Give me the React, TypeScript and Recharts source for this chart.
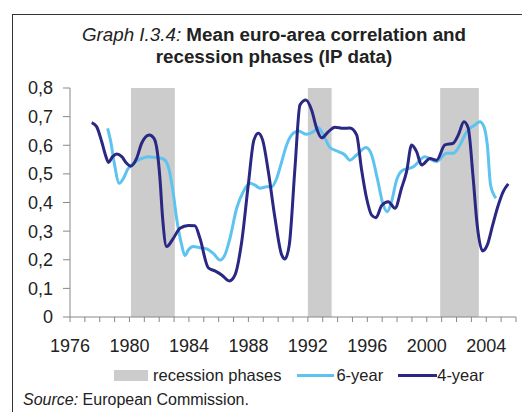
import { LineChart, Line, XAxis, YAxis, ReferenceArea } from 'recharts';

// 4-year rolling correlation (dark line)
const years4 = [
  1977.46, 1977.79, 1978.13, 1978.42, 1978.58, 1978.87, 1979.14, 1979.48, 1979.81, 1980.08,
  1980.48, 1980.82, 1981.34, 1981.65, 1981.87, 1982.05, 1982.23, 1982.5, 1982.95, 1983.4,
  1983.96, 1984.4, 1984.74, 1985.3, 1985.75, 1986.2, 1986.72, 1987.1, 1987.55, 1987.99,
  1988.37, 1988.67, 1988.96, 1989.34, 1989.79, 1990.24, 1990.46, 1990.75, 1991.13, 1991.47,
  1991.87, 1992.25, 1992.59, 1992.93, 1993.37, 1993.82, 1994.38, 1994.83, 1995.28, 1995.6,
  1995.95, 1996.29, 1996.58, 1996.96, 1997.41, 1997.86, 1998.3, 1998.64, 1998.98, 1999.31,
  1999.65, 2000.21, 2000.66, 2001.22, 2001.78, 2002.12, 2002.5, 2002.79, 2003.12, 2003.39,
  2003.75, 2004.07, 2004.43, 2004.81, 2005.14, 2005.48,
];
const values4 = [
  0.679, 0.665, 0.613, 0.56, 0.54, 0.56, 0.569, 0.56, 0.537, 0.527,
  0.554, 0.607, 0.636, 0.624, 0.578, 0.484, 0.345, 0.246, 0.275, 0.31,
  0.32, 0.319, 0.275, 0.172, 0.161, 0.147, 0.126, 0.147, 0.263, 0.461,
  0.618, 0.642, 0.618, 0.508, 0.345, 0.217, 0.203, 0.252, 0.519, 0.741,
  0.758, 0.723, 0.659, 0.626, 0.647, 0.663, 0.659, 0.66, 0.636, 0.519,
  0.415, 0.356, 0.347, 0.389, 0.403, 0.38, 0.45, 0.508, 0.601, 0.578,
  0.531, 0.554, 0.548, 0.601, 0.607, 0.636, 0.682, 0.659, 0.484, 0.321,
  0.231, 0.252, 0.321, 0.391, 0.438, 0.465,
];

// 6-year rolling correlation (light line)
const years6 = [
  1978.53, 1978.74, 1978.96, 1979.32, 1979.59, 1979.86, 1980.26, 1980.75, 1981.27, 1981.78,
  1982.28, 1982.61, 1982.9, 1983.17, 1983.51, 1983.73, 1983.96, 1984.29, 1984.74, 1985.19,
  1985.64, 1986.09, 1986.42, 1986.76, 1987.21, 1987.66, 1988.1, 1988.44, 1988.78, 1989.23,
  1989.56, 1989.9, 1990.24, 1990.57, 1991.02, 1991.36, 1991.92, 1992.37, 1992.7, 1993.04,
  1993.49, 1994.05, 1994.49, 1994.83, 1995.28, 1995.91, 1996.29, 1996.67, 1997.07, 1997.34,
  1997.63, 1997.97, 1998.42, 1998.82, 1999.09, 1999.87, 2000.66, 2001.33, 2001.78, 2002.23,
  2002.68, 2003.24, 2003.57, 2003.84, 2004.07, 2004.29, 2004.65,
];
const values6 = [
  0.659, 0.613, 0.543, 0.467, 0.484, 0.514, 0.537, 0.552, 0.56, 0.557,
  0.552, 0.525, 0.449, 0.345, 0.252, 0.214, 0.234, 0.246, 0.242, 0.238,
  0.222, 0.199, 0.217, 0.275, 0.38, 0.438, 0.467, 0.461, 0.45, 0.455,
  0.455, 0.484, 0.543, 0.601, 0.642, 0.65, 0.638, 0.647, 0.661, 0.636,
  0.592, 0.578, 0.566, 0.548, 0.566, 0.592, 0.566, 0.484, 0.391, 0.368,
  0.403, 0.479, 0.514, 0.519, 0.525, 0.56, 0.543, 0.572, 0.572, 0.601,
  0.647, 0.671, 0.682, 0.665, 0.601, 0.461, 0.415,
];

// recession phases [start, end]
const recessions = [
  [1980.1, 1983.05],
  [1992.0, 1993.6],
  [2000.9, 2003.5],
];

const yTicks = [0, 0.1, 0.2, 0.3, 0.4, 0.5, 0.6, 0.7, 0.8];
const xTicks = Array.from({ length: 31 }, (_, i) => 1976 + i);
const xLabels = [1976, 1980, 1984, 1988, 1992, 1996, 2000, 2004];

const data4 = years4.map((year, i) => ({ year, value: values4[i] }));
const data6 = years6.map((year, i) => ({ year, value: values6[i] }));

const FONT = '"Liberation Sans", Arial, sans-serif';
const LIGHT = '#5ec3ef';
const DARK = '#2b2883';
const BAND = '#cccccc';

export default function App() {
  return (
    <div
      style={{
        position: 'absolute',
        left: 0,
        top: 0,
        width: 522,
        height: 412,
        background: '#fff',
        fontFamily: FONT,
        color: '#222',
        overflow: 'hidden',
      }}
    >
      {/* frame */}
      <div style={{ position: 'absolute', left: 12, top: 14, width: 520, height: 420, borderLeft: '1px solid #333', borderTop: '1px solid #333' }} />

      {/* title */}
      <div style={{ position: 'absolute', left: 274, top: 24, transform: 'translateX(-50%)', whiteSpace: 'nowrap', fontSize: 18.8 }}>
        <span style={{ fontStyle: 'italic' }}>Graph I.3.4:</span>
        <span style={{ fontWeight: 'bold' }}> Mean euro-area correlation and</span>
      </div>
      <div style={{ position: 'absolute', left: 274, top: 46, transform: 'translateX(-50%)', whiteSpace: 'nowrap', fontSize: 18.8, fontWeight: 'bold' }}>
        recession phases (IP data)
      </div>

      <div style={{ position: 'absolute', left: 0, top: 0 }}>
        <LineChart width={522} height={412} margin={{ top: 88, right: 6, bottom: 65, left: 0 }}>
          {recessions.map(([a, b]) => (
            <ReferenceArea key={a} x1={a} x2={b} y1={0} y2={0.8} fill={BAND} fillOpacity={1} stroke="none" />
          ))}
          <XAxis
            type="number"
            dataKey="year"
            domain={[1976, 2006]}
            ticks={xTicks}
            interval={0}
            allowDuplicatedCategory={false}
            height={30}
            tickSize={5}
            tickMargin={17}
            stroke="#888"
            tick={{ fill: '#222', fontSize: 18, fontFamily: FONT }}
            tickFormatter={(v: number) => (xLabels.includes(v) ? String(v) : '')}
          />
          <YAxis
            type="number"
            domain={[0, 0.8]}
            ticks={yTicks}
            interval={0}
            width={70}
            tickSize={7}
            tickMargin={10}
            stroke="#888"
            tick={{ fill: '#222', fontSize: 18, fontFamily: FONT }}
            tickFormatter={(v: number) => (v === 0 ? '0' : v.toFixed(1).replace('.', ','))}
          />
          <Line
            data={data6}
            dataKey="value"
            type="monotone"
            stroke={LIGHT}
            strokeWidth={3}
            dot={false}
            isAnimationActive={false}
          />
          <Line
            data={data4}
            dataKey="value"
            type="monotone"
            stroke={DARK}
            strokeWidth={3}
            dot={false}
            isAnimationActive={false}
          />
        </LineChart>
      </div>

      {/* legend */}
      <div style={{ position: 'absolute', left: 114, top: 364, height: 22, display: 'flex', alignItems: 'center', fontSize: 16.5, whiteSpace: 'nowrap' }}>
        <span style={{ display: 'inline-block', width: 34, height: 11, background: BAND, marginRight: 5 }} />
        <span>recession phases</span>
        <span style={{ display: 'inline-block', width: 37, height: 3, background: LIGHT, marginLeft: 16, marginRight: 2 }} />
        <span>6-year</span>
        <span style={{ display: 'inline-block', width: 39, height: 3, background: DARK, marginLeft: 15 }} />
        <span>4-year</span>
      </div>

      {/* source */}
      <div style={{ position: 'absolute', left: 23, top: 391, fontSize: 16, whiteSpace: 'nowrap' }}>
        <span style={{ fontStyle: 'italic' }}>Source:</span> European Commission.
      </div>
    </div>
  );
}
